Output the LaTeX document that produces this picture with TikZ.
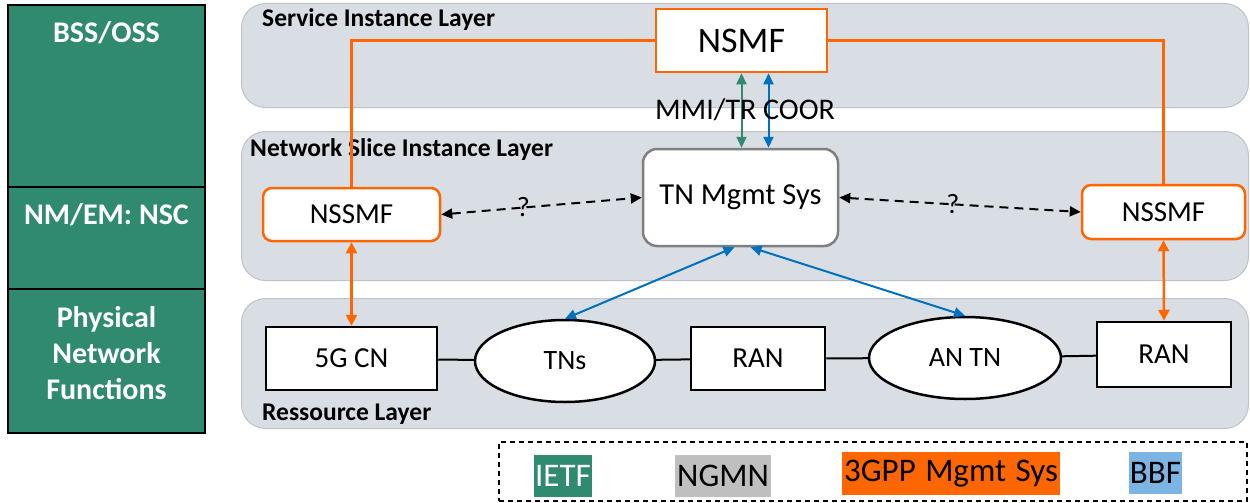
\documentclass[tikz,border=0pt]{standalone}
\usepackage{fontspec}
\setmainfont{Carlito}
\usetikzlibrary{arrows.meta,shapes.geometric,calc}
\definecolor{ietfgreen}{RGB}{47,138,111}
\definecolor{layerfill}{RGB}{217,222,228}
\definecolor{layerline}{RGB}{190,195,200}
\definecolor{orng}{RGB}{255,102,0}
\definecolor{blu}{RGB}{0,112,192}
\definecolor{bbf}{RGB}{124,181,227}
\definecolor{ngmn}{RGB}{191,191,191}
\definecolor{tngray}{RGB}{127,127,127}
\newcommand\fsz[1]{\fontsize{#1}{#1}\selectfont}
\begin{document}
\begin{tikzpicture}[x=1pt,y=-1pt,
  layer/.style={draw=layerline, line width=1pt, fill=layerfill, rounded corners=24pt, anchor=north west, inner sep=0pt},
  layerlbl/.style={anchor=west, inner sep=0pt, font=\fsz{25.5}\bfseries},
  colbox/.style={draw=black, line width=1.8pt, fill=ietfgreen, minimum width=197pt, inner sep=0pt},
  coltxt/.style={text=white, font=\fsz{30}\bfseries, align=center, inner sep=0pt},
  nsmfbox/.style={draw=orng, line width=2.5pt, fill=white, inner sep=0pt, font=\fsz{36}},
  nssmfbox/.style={draw=orng, line width=2.5pt, fill=white, rounded corners=9pt, inner sep=0pt, font=\fsz{29}},
  tnbox/.style={draw=tngray, line width=2.5pt, fill=white, rounded corners=14pt, inner sep=0pt, font=\fsz{30.5}},
  resbox/.style={draw=black, line width=2.5pt, fill=white, inner sep=0pt, font=\fsz{29}},
  resell/.style={ellipse, draw=black, line width=2.5pt, fill=white, inner sep=0pt, font=\fsz{28}},
  plaintxt/.style={inner sep=0pt, font=\fsz{30}},
  qlbl/.style={inner sep=0pt, font=\fsz{28}},
  oline/.style={draw=orng, line width=2.5pt},
  oarrow/.style={draw=orng, line width=2.5pt, {Triangle[length=11pt,width=11pt]}-{Triangle[length=11pt,width=11pt]}},
  barrow/.style={draw=blu, line width=2pt, {Triangle[length=11pt,width=10pt]}-{Triangle[length=11pt,width=10pt]}},
  garrow/.style={draw=ietfgreen, line width=2pt, {Triangle[length=11pt,width=10pt]}-{Triangle[length=11pt,width=10pt]}},
  darrow/.style={draw=black, line width=2pt, dash pattern=on 9pt off 6pt, {Triangle[length=11pt,width=10pt]}-{Triangle[length=11pt,width=10pt]}},
  link/.style={draw=black, line width=2pt},
  legitem/.style={inner sep=0pt, font=\fsz{33}, minimum height=42pt},
]
\useasboundingbox (0,0) rectangle (1250,503);

% layers
\node[layer, minimum width=1007pt, minimum height=104pt] (sil) at (241,3) {};
\node[layer, minimum width=1007pt, minimum height=149pt] (nsil) at (241,131) {};
\node[layer, minimum width=1007pt, minimum height=130pt] (rl) at (241,298) {};
\node[layerlbl] (silL) at (262,20) {Service Instance Layer};
\node[layerlbl] (nsilL) at (250,150) {Network Slice Instance Layer};
\node[layerlbl] (rlL) at (262,414) {Ressource Layer};

% left column
\node[colbox, minimum height=182pt] (bssbox) at (106.5,96) {};
\node[colbox, minimum height=102pt] (nmbox) at (106.5,238) {};
\node[colbox, minimum height=144pt] (pnfbox) at (106.5,361) {};
\node[coltxt] (bsst) at (106.5,33) {BSS/OSS};
\node[coltxt] (nmt) at (106.5,215) {NM/EM: NSC};
\node[coltxt, font=\fontsize{30}{36}\selectfont\bfseries] (pnft) at (106.5,353) {Physical\\Network\\Functions};

% main nodes
\node[nsmfbox, minimum width=171pt, minimum height=63pt] (nsmf) at (741.5,40.5) {NSMF};
\node[nssmfbox, minimum width=177pt, minimum height=53pt] (nssmfL) at (351.5,214.5) {NSSMF};
\node[nssmfbox, minimum width=163pt, minimum height=54pt] (nssmfR) at (1163.5,212) {NSSMF};
\node[tnbox, minimum width=195pt, minimum height=97pt] (tnm) at (740.5,197.5) {TN Mgmt Sys};
\node[resbox, minimum width=171pt, minimum height=63pt] (cn) at (351.5,358.5) {5G CN};
\node[resell, minimum width=180pt, minimum height=82pt] (tns) at (565,361) {TNs};
\node[resbox, minimum width=134pt, minimum height=63pt] (ran1) at (758,358.5) {RAN};
\node[resell, minimum width=192pt, minimum height=82pt] (antn) at (965,358) {AN TN};
\node[resbox, minimum width=134pt, minimum height=65pt] (ran2) at (1164,354.5) {RAN};

% connectors
\draw[oline] (nssmfL.north) |- (nsmf.west);
\draw[oline] (nsmf.east) -| (nssmfR.north);
\draw[oarrow] (nssmfL.south) -- (cn.north);
\draw[oarrow] (nssmfR.south) -- (ran2.north);
\draw[garrow] (nsmf.south) -- (nsmf.south |- tnm.north);
\draw[barrow] ($(nsmf.south)+(27,0)$) -- ($(nsmf.south |- tnm.north)+(27,0)$);
\draw[barrow] ($(tnm.south)+(-6,0)$) -- (tns.north);
\draw[barrow] ($(tnm.south)+(10,0)$) -- (antn.north);
\draw[darrow] (nssmfL.east) -- node[qlbl, pos=0.41] (q1) {?} (tnm.west);
\draw[darrow] (tnm.east) -- node[qlbl, pos=0.47] (q2) {?} (nssmfR.west);
\draw[link] (cn) -- (tns);
\draw[link] (tns) -- (ran1);
\draw[link] (ran1) -- (antn);
\draw[link] (antn) -- (ran2);
\node[plaintxt] (mmi) at (745,110) {MMI/TR COOR};

% legend
\node[draw=black, line width=1.2pt, dash pattern=on 5pt off 4pt, minimum width=748pt, minimum height=59pt, inner sep=0pt] (legend) at (873,471.5) {};
\node[legitem, fill=ietfgreen, text=white, minimum width=58pt] (ietf) at (563,476) {IETF};
\node[legitem, fill=ngmn, minimum width=96pt] (ngmnl) at (723,476) {NGMN};
\node[legitem, fill=orng, minimum width=218pt, minimum height=43pt] (gpp) at (951,473.5) {3GPP\hspace{2pt} Mgmt\hspace{2pt} Sys};
\node[legitem, fill=bbf, minimum width=53pt] (bbfl) at (1155.5,473) {BBF};
\end{tikzpicture}
\end{document}
